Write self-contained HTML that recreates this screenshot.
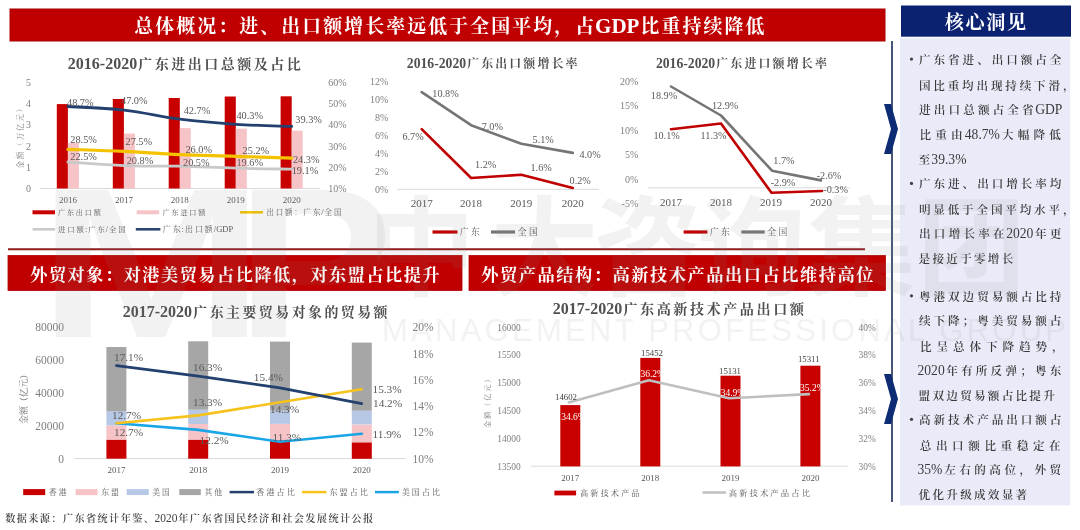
<!DOCTYPE html>
<html lang="zh-CN"><head><meta charset="utf-8"><title>广东外贸概况</title>
<style>
html,body{margin:0;padding:0;background:#fff;}
body{width:1080px;height:530px;overflow:hidden;}
svg{display:block;font-family:"Liberation Serif", "Noto Serif CJK SC", serif;}
</style></head><body>
<svg width="1080" height="530" viewBox="0 0 1080 530">
<rect x="10.0" y="9.0" width="875.0" height="32.0" fill="#C00000" stroke="#A80000" stroke-width="1"/>
<text x="133.3" y="33.2" font-size="21" fill="#FFFFFF" font-weight="bold"><tspan dx="1.05" font-size="18.90" letter-spacing="2.10">总体概况：进、出口额增长率远低于全国平均，占</tspan><tspan dx="-1.05">GDP</tspan><tspan dx="1.05" font-size="18.90" letter-spacing="2.10">比重持续降低</tspan></text>
<line x1="8.0" y1="249.3" x2="865.0" y2="249.3" stroke="#8E1B1E" stroke-width="2" />
<rect x="8.0" y="255.5" width="454.0" height="35.0" fill="#C00000" stroke="#B00000" stroke-width="0.8"/>
<text x="29.5" y="280.9" font-size="18.4" fill="#FFFFFF" font-weight="bold"><tspan dx="0.75" font-size="17.19" letter-spacing="1.49">外贸对象：对港美贸易占比降低，对东盟占比提升</tspan></text>
<rect x="469.0" y="255.5" width="416.5" height="35.0" fill="#C00000" stroke="#B00000" stroke-width="0.8"/>
<text x="480.4" y="280.9" font-size="18.4" fill="#FFFFFF" font-weight="bold"><tspan dx="0.75" font-size="17.25" letter-spacing="1.50">外贸产品结构：高新技术产品出口占比维持高位</tspan></text>
<text x="4.5" y="521.9" font-size="11.5" fill="#404040"><tspan dx="0.69" font-size="10.16" letter-spacing="1.39" font-weight="600">数据来源：广东省统计年鉴、</tspan><tspan dx="-0.69">2020</tspan><tspan dx="0.69" font-size="10.16" letter-spacing="1.39" font-weight="600">年广东省国民经济和社会发展统计公报</tspan></text>
<rect x="901.0" y="5.5" width="170.0" height="31.2" fill="#0B2270" />
<text x="943.9" y="28.8" font-size="20" fill="#FFFFFF" font-weight="bold"><tspan dx="0.83" font-size="19.14" letter-spacing="1.66">核心洞见</tspan></text>
<rect x="900.0" y="38.0" width="170.0" height="467.5" fill="#E9ECF8" />
<line x1="892.0" y1="41.0" x2="892.0" y2="502.0" stroke="#34456A" stroke-width="1.8" />
<polygon points="884,104 891,104 898,129 891,154 884,154 891,129" fill="#0E2C74"/>
<polygon points="884,374 891,374 898,399 891,424 884,424 891,399" fill="#0E2C74"/>
<circle cx="911.5" cy="59.1" r="1.6" fill="#404040"/>
<text x="917.5" y="63.8" font-size="13.6" fill="#3A3A3A"><tspan dx="1.48" font-size="11.60" letter-spacing="2.95" font-weight="600">广东省进、出口额占全</tspan></text>
<text x="917.5" y="89.6" font-size="13.6" fill="#3A3A3A"><tspan dx="1.40" font-size="11.60" letter-spacing="2.81" font-weight="600">国比重均出现持续下滑，</tspan></text>
<text x="917.5" y="114.2" font-size="13.6" fill="#3A3A3A"><tspan dx="1.56" font-size="11.60" letter-spacing="3.12" font-weight="600">进出口总额占全省</tspan><tspan dx="-1.56">GDP</tspan></text>
<text x="917.5" y="139.2" font-size="13.6" fill="#3A3A3A"><tspan dx="2.08" font-size="11.60" letter-spacing="4.17" font-weight="600">比重由</tspan><tspan dx="-2.08">48.7%</tspan><tspan dx="2.08" font-size="11.60" letter-spacing="4.17" font-weight="600">大幅降低</tspan></text>
<text x="917.5" y="164.2" font-size="13.6" fill="#3A3A3A"><tspan dx="1.12" font-size="11.60" letter-spacing="2.25" font-weight="600">至</tspan><tspan dx="-1.12">39.3%</tspan></text>
<circle cx="911.5" cy="183.4" r="1.6" fill="#404040"/>
<text x="917.5" y="188.1" font-size="13.6" fill="#3A3A3A"><tspan dx="1.48" font-size="11.60" letter-spacing="2.95" font-weight="600">广东进、出口增长率均</tspan></text>
<text x="917.5" y="213.9" font-size="13.6" fill="#3A3A3A"><tspan dx="1.40" font-size="11.60" letter-spacing="2.81" font-weight="600">明显低于全国平均水平，</tspan></text>
<text x="917.5" y="238.4" font-size="13.6" fill="#3A3A3A"><tspan dx="1.59" font-size="11.60" letter-spacing="3.19" font-weight="600">出口增长率在</tspan><tspan dx="-1.59">2020</tspan><tspan dx="1.59" font-size="11.60" letter-spacing="3.19" font-weight="600">年更</tspan></text>
<text x="917.5" y="262.5" font-size="13.6" fill="#3A3A3A"><tspan dx="1.12" font-size="11.60" letter-spacing="2.25" font-weight="600">是接近于零增长</tspan></text>
<circle cx="911.5" cy="295.8" r="1.6" fill="#404040"/>
<text x="917.5" y="300.5" font-size="13.6" fill="#3A3A3A"><tspan dx="1.48" font-size="11.60" letter-spacing="2.95" font-weight="600">粤港双边贸易额占比持</tspan></text>
<text x="917.5" y="325.0" font-size="13.6" fill="#3A3A3A"><tspan dx="1.48" font-size="11.60" letter-spacing="2.95" font-weight="600">续下降；粤美贸易额占</tspan></text>
<text x="917.5" y="350.7" font-size="13.6" fill="#3A3A3A"><tspan dx="2.45" font-size="11.60" letter-spacing="4.90" font-weight="600">比呈总体下降趋势，</tspan></text>
<text x="917.5" y="375.3" font-size="13.6" fill="#3A3A3A">2020<tspan dx="1.59" font-size="11.60" letter-spacing="3.19" font-weight="600">年有所反弹；粤东</tspan></text>
<text x="917.5" y="399.9" font-size="13.6" fill="#3A3A3A"><tspan dx="1.12" font-size="11.60" letter-spacing="2.25" font-weight="600">盟双边贸易额占比提升</tspan></text>
<circle cx="911.5" cy="419.3" r="1.6" fill="#404040"/>
<text x="917.5" y="424.0" font-size="13.6" fill="#3A3A3A"><tspan dx="1.48" font-size="11.60" letter-spacing="2.95" font-weight="600">高新技术产品出口额占</tspan></text>
<text x="917.5" y="449.7" font-size="13.6" fill="#3A3A3A"><tspan dx="2.28" font-size="11.60" letter-spacing="4.57" font-weight="600">总出口额比重稳定在</tspan></text>
<text x="917.5" y="474.3" font-size="13.6" fill="#3A3A3A">35%<tspan dx="1.74" font-size="11.60" letter-spacing="3.47" font-weight="600">左右的高位，外贸</tspan></text>
<text x="917.5" y="498.8" font-size="13.6" fill="#3A3A3A"><tspan dx="1.12" font-size="11.60" letter-spacing="2.25" font-weight="600">优化升级成效显著</tspan></text>
<text x="67.8" y="68.7" font-size="16" fill="#505050" font-weight="bold">2016-2020<tspan dx="1.24" font-size="14.03" letter-spacing="2.47">广东进出口总额及占比</tspan></text>
<text x="26.1" y="191.9" font-size="10" fill="#7F7F7F">0</text>
<text x="328.3" y="191.9" font-size="10" fill="#7F7F7F">10%</text>
<text x="26.1" y="170.7" font-size="10" fill="#7F7F7F">1</text>
<text x="328.3" y="170.7" font-size="10" fill="#7F7F7F">20%</text>
<text x="26.1" y="149.5" font-size="10" fill="#7F7F7F">2</text>
<text x="328.3" y="149.5" font-size="10" fill="#7F7F7F">30%</text>
<text x="26.1" y="128.3" font-size="10" fill="#7F7F7F">3</text>
<text x="328.3" y="128.3" font-size="10" fill="#7F7F7F">40%</text>
<text x="26.1" y="107.1" font-size="10" fill="#7F7F7F">4</text>
<text x="328.3" y="107.1" font-size="10" fill="#7F7F7F">50%</text>
<text x="26.1" y="85.9" font-size="10" fill="#7F7F7F">5</text>
<text x="328.3" y="85.9" font-size="10" fill="#7F7F7F">60%</text>
<text x="-32.9" y="3.2" font-size="9.5" fill="#7F7F7F" transform="translate(19.5,136.6) rotate(-90)"><tspan dx="0.94" font-size="7.52" letter-spacing="1.88">金额（万亿元）</tspan></text>
<line x1="40.0" y1="188.5" x2="320.0" y2="188.5" stroke="#D9D9D9" stroke-width="1" />
<rect x="56.8" y="104.1" width="11.1" height="84.4" fill="#C80000" />
<rect x="67.9" y="142.9" width="11.0" height="45.6" fill="#F6C4C6" />
<rect x="112.8" y="99.0" width="11.1" height="89.5" fill="#C80000" />
<rect x="123.9" y="133.6" width="11.0" height="54.9" fill="#F6C4C6" />
<rect x="168.7" y="98.0" width="11.1" height="90.5" fill="#C80000" />
<rect x="179.8" y="128.1" width="11.0" height="60.4" fill="#F6C4C6" />
<rect x="224.7" y="96.5" width="11.1" height="92.0" fill="#C80000" />
<rect x="235.8" y="128.7" width="11.0" height="59.8" fill="#F6C4C6" />
<rect x="280.6" y="96.3" width="11.1" height="92.2" fill="#C80000" />
<rect x="291.7" y="130.6" width="11.0" height="57.9" fill="#F6C4C6" />
<path d="M67.9,162.0 C78.0,162.6 103.7,164.8 123.9,165.6 C144.0,166.4 159.7,165.8 179.8,166.2 C199.9,166.7 215.6,167.6 235.8,168.1 C255.9,168.7 281.6,169.0 291.7,169.2" fill="none" stroke="#C9C9C9" stroke-width="2.8" stroke-linecap="round"/>
<path d="M67.9,149.3 C78.0,149.7 103.7,150.4 123.9,151.4 C144.0,152.4 159.7,153.7 179.8,154.6 C199.9,155.5 215.6,155.6 235.8,156.3 C255.9,156.9 281.6,157.8 291.7,158.2" fill="none" stroke="#F5C200" stroke-width="3.2" stroke-linecap="round"/>
<path d="M67.9,106.5 C78.0,107.1 103.7,107.8 123.9,110.1 C144.0,112.3 159.7,116.6 179.8,119.2 C199.9,121.7 215.6,123.0 235.8,124.3 C255.9,125.6 281.6,126.0 291.7,126.4" fill="none" stroke="#24406E" stroke-width="2.8" stroke-linecap="round"/>
<text x="67.0" y="105.5" font-size="10.3" fill="#595959">48.7%</text>
<text x="121.0" y="103.5" font-size="10.3" fill="#595959">47.0%</text>
<text x="183.7" y="114.0" font-size="10.3" fill="#595959">42.7%</text>
<text x="236.4" y="118.9" font-size="10.3" fill="#595959">40.3%</text>
<text x="295.3" y="122.5" font-size="10.3" fill="#595959">39.3%</text>
<text x="70.3" y="142.9" font-size="10.3" fill="#595959">28.5%</text>
<text x="125.5" y="145.1" font-size="10.3" fill="#595959">27.5%</text>
<text x="185.4" y="152.5" font-size="10.3" fill="#595959">26.0%</text>
<text x="242.6" y="154.0" font-size="10.3" fill="#595959">25.2%</text>
<text x="292.9" y="163.1" font-size="10.3" fill="#595959">24.3%</text>
<text x="70.3" y="159.9" font-size="10.3" fill="#595959">22.5%</text>
<text x="126.7" y="163.8" font-size="10.3" fill="#595959">20.8%</text>
<text x="183.0" y="166.3" font-size="10.3" fill="#595959">20.5%</text>
<text x="236.4" y="166.3" font-size="10.3" fill="#595959">19.6%</text>
<text x="291.7" y="174.1" font-size="10.3" fill="#595959">19.1%</text>
<text x="58.9" y="203.0" font-size="9" fill="#595959">2016</text>
<text x="114.9" y="203.0" font-size="9" fill="#595959">2017</text>
<text x="170.8" y="203.0" font-size="9" fill="#595959">2018</text>
<text x="226.8" y="203.0" font-size="9" fill="#595959">2019</text>
<text x="282.7" y="203.0" font-size="9" fill="#595959">2020</text>
<line x1="32.5" y1="212.3" x2="55.0" y2="212.3" stroke="#C80000" stroke-width="4" />
<text x="57.2" y="215.2" font-size="8.5" fill="#595959"><tspan dx="0.89" font-size="7.12" letter-spacing="1.78">广东出口额</tspan></text>
<line x1="136.7" y1="212.3" x2="159.2" y2="212.3" stroke="#F6C4C6" stroke-width="4" />
<text x="161.8" y="215.2" font-size="8.5" fill="#595959"><tspan dx="0.89" font-size="7.12" letter-spacing="1.78">广东进口额</tspan></text>
<line x1="240.0" y1="212.3" x2="263.0" y2="212.3" stroke="#F5C200" stroke-width="2.5" />
<text x="265.5" y="215.2" font-size="8.5" fill="#595959"><tspan dx="0.93" font-size="7.44" letter-spacing="1.86">出口额：广东</tspan><tspan dx="-0.93">/</tspan><tspan dx="0.93" font-size="7.44" letter-spacing="1.86">全国</tspan></text>
<line x1="32.5" y1="229.3" x2="55.0" y2="229.3" stroke="#C9C9C9" stroke-width="2.5" />
<text x="57.2" y="232.2" font-size="8.5" fill="#595959"><tspan dx="0.92" font-size="7.40" letter-spacing="1.85">进口额</tspan><tspan dx="-0.92">:</tspan><tspan dx="0.92" font-size="7.40" letter-spacing="1.85">广东</tspan><tspan dx="-0.92">/</tspan><tspan dx="0.92" font-size="7.40" letter-spacing="1.85">全国</tspan></text>
<line x1="135.8" y1="229.3" x2="160.4" y2="229.3" stroke="#24406E" stroke-width="2.5" />
<text x="161.7" y="232.2" font-size="8.5" fill="#595959"><tspan dx="0.99" font-size="7.96" letter-spacing="1.99">广东</tspan><tspan dx="-0.99">:</tspan><tspan dx="0.99" font-size="7.96" letter-spacing="1.99">出口额</tspan><tspan dx="-0.99">/GDP</tspan></text>
<text x="406.8" y="67.7" font-size="13.7" fill="#505050" font-weight="bold">2016-2020<tspan dx="1.05" font-size="11.94" letter-spacing="2.11">广东出口额增长率</tspan></text>
<text x="375.0" y="192.7" font-size="10" fill="#7F7F7F">0%</text>
<text x="375.0" y="174.7" font-size="10" fill="#7F7F7F">2%</text>
<text x="375.0" y="156.7" font-size="10" fill="#7F7F7F">4%</text>
<text x="375.0" y="138.7" font-size="10" fill="#7F7F7F">6%</text>
<text x="375.0" y="120.8" font-size="10" fill="#7F7F7F">8%</text>
<text x="370.0" y="102.8" font-size="10" fill="#7F7F7F">10%</text>
<text x="370.0" y="84.8" font-size="10" fill="#7F7F7F">12%</text>
<line x1="397.0" y1="189.3" x2="599.0" y2="189.3" stroke="#D9D9D9" stroke-width="1" />
<text x="410.7" y="207.3" font-size="11" fill="#595959">2017</text>
<text x="460.1" y="207.3" font-size="11" fill="#595959">2018</text>
<text x="510.3" y="207.3" font-size="11" fill="#595959">2019</text>
<text x="561.8" y="207.3" font-size="11" fill="#595959">2020</text>
<polyline points="421.7,92.2 471.1,125.2 521.3,143.7 572.8,152.9" fill="none" stroke="#757575" stroke-width="2.6" stroke-linejoin="round" stroke-linecap="round" />
<polyline points="421.7,129.1 471.1,178.0 521.3,174.8 572.8,188.0" fill="none" stroke="#C00000" stroke-width="2.6" stroke-linejoin="round" stroke-linecap="round" />
<text x="432.3" y="96.9" font-size="10.2" fill="#595959">10.8%</text>
<text x="481.7" y="129.9" font-size="10.2" fill="#595959">7.0%</text>
<text x="532.6" y="143.1" font-size="10.2" fill="#595959">5.1%</text>
<text x="579.4" y="157.6" font-size="10.2" fill="#595959">4.0%</text>
<text x="402.4" y="139.7" font-size="10.2" fill="#595959">6.7%</text>
<text x="475.0" y="168.2" font-size="10.2" fill="#595959">1.2%</text>
<text x="530.5" y="170.8" font-size="10.2" fill="#595959">1.6%</text>
<text x="569.6" y="184.0" font-size="10.2" fill="#595959">0.2%</text>
<line x1="432.5" y1="232.0" x2="457.5" y2="232.0" stroke="#C00000" stroke-width="3.2" />
<text x="458.6" y="235.2" font-size="8.5" fill="#595959"><tspan dx="1.20" font-size="8.80" letter-spacing="2.40">广东</tspan></text>
<line x1="491.0" y1="232.0" x2="515.0" y2="232.0" stroke="#757575" stroke-width="3.2" />
<text x="516.6" y="235.2" font-size="8.5" fill="#595959"><tspan dx="1.20" font-size="8.80" letter-spacing="2.40">全国</tspan></text>
<text x="655.9" y="67.7" font-size="13.7" fill="#505050" font-weight="bold">2016-2020<tspan dx="1.06" font-size="11.98" letter-spacing="2.12">广东进口额增长率</tspan></text>
<text x="621.6" y="207.1" font-size="10" fill="#7F7F7F">-5%</text>
<text x="625.0" y="182.6" font-size="10" fill="#7F7F7F">0%</text>
<text x="625.0" y="158.1" font-size="10" fill="#7F7F7F">5%</text>
<text x="620.0" y="133.6" font-size="10" fill="#7F7F7F">10%</text>
<text x="620.0" y="109.1" font-size="10" fill="#7F7F7F">15%</text>
<text x="620.0" y="84.6" font-size="10" fill="#7F7F7F">20%</text>
<line x1="647.8" y1="187.8" x2="850.0" y2="187.8" stroke="#D9D9D9" stroke-width="1" />
<text x="660.0" y="205.7" font-size="11" fill="#595959">2017</text>
<text x="710.0" y="205.7" font-size="11" fill="#595959">2018</text>
<text x="760.0" y="205.7" font-size="11" fill="#595959">2019</text>
<text x="810.0" y="205.7" font-size="11" fill="#595959">2020</text>
<polyline points="671.0,86.5 721.0,115.5 772.0,170.7 821.0,180.4" fill="none" stroke="#757575" stroke-width="2.6" stroke-linejoin="round" stroke-linecap="round" />
<polyline points="671.0,129.2 721.0,123.5 771.5,192.7 822.0,191.0" fill="none" stroke="#C00000" stroke-width="2.6" stroke-linejoin="round" stroke-linecap="round" />
<text x="650.8" y="99.4" font-size="10.2" fill="#595959">18.9%</text>
<text x="712.0" y="108.8" font-size="10.2" fill="#595959">12.9%</text>
<text x="773.3" y="164.4" font-size="10.2" fill="#595959">1.7%</text>
<text x="816.7" y="179.0" font-size="10.2" fill="#595959">-2.6%</text>
<text x="653.4" y="139.0" font-size="10.2" fill="#595959">10.1%</text>
<text x="700.6" y="139.0" font-size="10.2" fill="#595959">11.3%</text>
<text x="770.7" y="186.1" font-size="10.2" fill="#595959">-2.9%</text>
<text x="823.3" y="192.7" font-size="10.2" fill="#595959">-0.3%</text>
<line x1="683.6" y1="232.0" x2="707.4" y2="232.0" stroke="#C00000" stroke-width="3.2" />
<text x="708.6" y="235.2" font-size="8.5" fill="#595959"><tspan dx="1.20" font-size="8.80" letter-spacing="2.40">广东</tspan></text>
<line x1="741.3" y1="232.0" x2="764.7" y2="232.0" stroke="#757575" stroke-width="3.2" />
<text x="766.0" y="235.2" font-size="8.5" fill="#595959"><tspan dx="1.20" font-size="8.80" letter-spacing="2.40">全国</tspan></text>
<text x="122.7" y="317.2" font-size="16" fill="#505050" font-weight="bold">2017-2020<tspan dx="1.23" font-size="13.94" letter-spacing="2.46">广东主要贸易对象的贸易额</tspan></text>
<text x="58.2" y="462.6" font-size="11.5" fill="#7F7F7F">0</text>
<text x="35.2" y="429.8" font-size="11.5" fill="#7F7F7F">20000</text>
<text x="35.2" y="397.0" font-size="11.5" fill="#7F7F7F">40000</text>
<text x="35.2" y="364.2" font-size="11.5" fill="#7F7F7F">60000</text>
<text x="35.2" y="331.4" font-size="11.5" fill="#7F7F7F">80000</text>
<text x="412.4" y="462.6" font-size="11.5" fill="#7F7F7F">10%</text>
<text x="412.4" y="436.4" font-size="11.5" fill="#7F7F7F">12%</text>
<text x="412.4" y="410.1" font-size="11.5" fill="#7F7F7F">14%</text>
<text x="412.4" y="383.9" font-size="11.5" fill="#7F7F7F">16%</text>
<text x="412.4" y="357.6" font-size="11.5" fill="#7F7F7F">18%</text>
<text x="412.4" y="331.4" font-size="11.5" fill="#7F7F7F">20%</text>
<text x="-27.0" y="3.2" font-size="9" fill="#737373" transform="translate(23.4,396.9) rotate(-90)"><tspan dx="0.00" font-size="9.00" letter-spacing="0.00">金额（亿元）</tspan></text>
<line x1="75.0" y1="458.6" x2="405.0" y2="458.6" stroke="#D9D9D9" stroke-width="1" />
<rect x="106.4" y="439.6" width="20.0" height="19.1" fill="#C80000" />
<rect x="106.4" y="425.4" width="20.0" height="14.2" fill="#F6C4C6" />
<rect x="106.4" y="411.2" width="20.0" height="14.2" fill="#B7C8E6" />
<rect x="106.4" y="347.0" width="20.0" height="64.3" fill="#A6A6A6" />
<rect x="188.2" y="439.6" width="20.0" height="19.1" fill="#C80000" />
<rect x="188.2" y="424.0" width="20.0" height="15.6" fill="#F6C4C6" />
<rect x="188.2" y="409.7" width="20.0" height="14.3" fill="#B7C8E6" />
<rect x="188.2" y="341.3" width="20.0" height="68.4" fill="#A6A6A6" />
<rect x="270.0" y="440.7" width="20.0" height="18.0" fill="#C80000" />
<rect x="270.0" y="424.0" width="20.0" height="16.8" fill="#F6C4C6" />
<rect x="270.0" y="410.7" width="20.0" height="13.2" fill="#B7C8E6" />
<rect x="270.0" y="341.6" width="20.0" height="69.1" fill="#A6A6A6" />
<rect x="351.8" y="442.3" width="20.0" height="16.5" fill="#C80000" />
<rect x="351.8" y="424.5" width="20.0" height="17.8" fill="#F6C4C6" />
<rect x="351.8" y="410.6" width="20.0" height="13.8" fill="#B7C8E6" />
<rect x="351.8" y="342.6" width="20.0" height="68.1" fill="#A6A6A6" />
<polyline points="116.4,423.3 198.2,429.9 280.0,441.7 361.8,433.8" fill="none" stroke="#1AA6E6" stroke-width="2.6" stroke-linejoin="round" stroke-linecap="round" />
<polyline points="116.4,423.3 198.2,415.4 280.0,402.3 361.8,389.2" fill="none" stroke="#F6C21C" stroke-width="2.6" stroke-linejoin="round" stroke-linecap="round" />
<polyline points="116.4,365.6 198.2,376.1 280.0,387.9 361.8,403.6" fill="none" stroke="#24406E" stroke-width="2.6" stroke-linejoin="round" stroke-linecap="round" />
<text x="114.0" y="361.3" font-size="11.3" fill="#595959">17.1%</text>
<text x="193.0" y="370.8" font-size="11.3" fill="#595959">16.3%</text>
<text x="253.8" y="380.5" font-size="11.3" fill="#595959">15.4%</text>
<text x="373.0" y="406.8" font-size="11.3" fill="#595959">14.2%</text>
<text x="112.0" y="418.8" font-size="11.3" fill="#595959">12.7%</text>
<text x="193.0" y="406.3" font-size="11.3" fill="#595959">13.3%</text>
<text x="270.0" y="412.6" font-size="11.3" fill="#595959">14.3%</text>
<text x="372.5" y="392.8" font-size="11.3" fill="#595959">15.3%</text>
<text x="114.0" y="435.5" font-size="11.3" fill="#595959">12.7%</text>
<text x="199.6" y="443.8" font-size="11.3" fill="#595959">12.2%</text>
<text x="272.5" y="440.5" font-size="11.3" fill="#595959">11.3%</text>
<text x="372.5" y="437.6" font-size="11.3" fill="#595959">11.9%</text>
<text x="107.4" y="473.0" font-size="9" fill="#595959">2017</text>
<text x="189.2" y="473.0" font-size="9" fill="#595959">2018</text>
<text x="271.0" y="473.0" font-size="9" fill="#595959">2019</text>
<text x="352.8" y="473.0" font-size="9" fill="#595959">2020</text>
<rect x="23.2" y="489.1" width="22.0" height="6.0" fill="#C80000" />
<text x="48.1" y="495.0" font-size="8.5" fill="#595959"><tspan dx="0.97" font-size="7.80" letter-spacing="1.95">香港</tspan></text>
<rect x="75.6" y="489.1" width="22.0" height="6.0" fill="#F6C4C6" />
<text x="100.3" y="495.0" font-size="8.5" fill="#595959"><tspan dx="0.97" font-size="7.80" letter-spacing="1.95">东盟</tspan></text>
<rect x="126.7" y="489.1" width="22.0" height="6.0" fill="#B7C8E6" />
<text x="151.4" y="495.0" font-size="8.5" fill="#595959"><tspan dx="0.97" font-size="7.80" letter-spacing="1.95">美国</tspan></text>
<rect x="179.3" y="489.1" width="21.5" height="6.0" fill="#A6A6A6" />
<text x="203.5" y="495.0" font-size="8.5" fill="#595959"><tspan dx="0.97" font-size="7.80" letter-spacing="1.95">其他</tspan></text>
<line x1="229.6" y1="492.1" x2="254.0" y2="492.1" stroke="#24406E" stroke-width="2.5" />
<text x="255.3" y="495.0" font-size="8.5" fill="#595959"><tspan dx="1.01" font-size="8.10" letter-spacing="2.02">香港占比</tspan></text>
<line x1="302.0" y1="492.1" x2="326.5" y2="492.1" stroke="#F6C21C" stroke-width="2.5" />
<text x="328.4" y="495.0" font-size="8.5" fill="#595959"><tspan dx="1.01" font-size="8.10" letter-spacing="2.02">东盟占比</tspan></text>
<line x1="375.0" y1="492.1" x2="398.9" y2="492.1" stroke="#1AA6E6" stroke-width="2.5" />
<text x="400.7" y="495.0" font-size="8.5" fill="#595959"><tspan dx="1.01" font-size="8.10" letter-spacing="2.02">美国占比</tspan></text>
<text x="552.8" y="314.2" font-size="16" fill="#505050" font-weight="bold">2017-2020<tspan dx="1.25" font-size="14.15" letter-spacing="2.50">广东高新技术产品出口额</tspan></text>
<text x="497.2" y="469.6" font-size="9.4" fill="#7F7F7F">13500</text>
<text x="497.2" y="441.8" font-size="9.4" fill="#7F7F7F">14000</text>
<text x="497.2" y="414.0" font-size="9.4" fill="#7F7F7F">14500</text>
<text x="497.2" y="386.2" font-size="9.4" fill="#7F7F7F">15000</text>
<text x="497.2" y="358.4" font-size="9.4" fill="#7F7F7F">15500</text>
<text x="497.2" y="330.6" font-size="9.4" fill="#7F7F7F">16000</text>
<text x="858.6" y="469.6" font-size="9.4" fill="#7F7F7F">30%</text>
<text x="858.6" y="441.8" font-size="9.4" fill="#7F7F7F">32%</text>
<text x="858.6" y="414.0" font-size="9.4" fill="#7F7F7F">34%</text>
<text x="858.6" y="386.2" font-size="9.4" fill="#7F7F7F">36%</text>
<text x="858.6" y="358.4" font-size="9.4" fill="#7F7F7F">38%</text>
<text x="858.6" y="330.6" font-size="9.4" fill="#7F7F7F">40%</text>
<text x="-27.3" y="2.7" font-size="8" fill="#7F7F7F" transform="translate(487.6,401.7) rotate(-90)"><tspan dx="0.91" font-size="7.28" letter-spacing="1.82">金额（亿元）</tspan></text>
<line x1="531.0" y1="466.2" x2="848.0" y2="466.2" stroke="#D9D9D9" stroke-width="1" />
<rect x="560.3" y="405.1" width="20.0" height="61.3" fill="#C80000" />
<rect x="640.3" y="357.9" width="20.0" height="108.5" fill="#C80000" />
<rect x="720.5" y="375.7" width="20.0" height="90.7" fill="#C80000" />
<rect x="800.4" y="365.7" width="20.0" height="100.7" fill="#C80000" />
<polyline points="568.8,402.5 648.8,380.2 729.0,398.3 808.9,394.1" fill="none" stroke="#BFBFBF" stroke-width="2.6" stroke-linejoin="round" stroke-linecap="round" />
<text x="555.0" y="400.3" font-size="8.8" fill="#404040">14602</text>
<text x="641.0" y="356.2" font-size="8.8" fill="#404040">15452</text>
<text x="719.0" y="374.2" font-size="8.8" fill="#404040">15131</text>
<text x="797.9" y="361.5" font-size="8.8" fill="#404040">15311</text>
<text x="561.2" y="419.5" font-size="9.5" fill="#FFFFFF">34.6%</text>
<text x="640.4" y="377.0" font-size="9.5" fill="#FFFFFF">36.2%</text>
<text x="720.7" y="396.2" font-size="9.5" fill="#FFFFFF">34.9%</text>
<text x="800.0" y="391.2" font-size="9.5" fill="#FFFFFF">35.2%</text>
<text x="561.3" y="480.6" font-size="9" fill="#595959">2017</text>
<text x="641.3" y="480.6" font-size="9" fill="#595959">2018</text>
<text x="721.5" y="480.6" font-size="9" fill="#595959">2019</text>
<text x="801.4" y="480.6" font-size="9" fill="#595959">2020</text>
<rect x="554.4" y="490.6" width="21.7" height="4.8" fill="#C80000" />
<text x="579.0" y="495.5" font-size="8.5" fill="#595959"><tspan dx="1.02" font-size="8.20" letter-spacing="2.05">高新技术产品</tspan></text>
<line x1="702.5" y1="492.5" x2="726.0" y2="492.5" stroke="#BFBFBF" stroke-width="2.5" />
<text x="727.6" y="495.5" font-size="8.5" fill="#595959"><tspan dx="1.04" font-size="8.35" letter-spacing="2.09">高新技术产品占比</tspan></text>
<g fill="#8C8C8C" fill-opacity="0.11">
<text transform="translate(37.3,337) scale(1.28,1)" font-family="Liberation Sans, sans-serif" font-weight="bold" font-size="213.7">M</text>
<text transform="translate(236.2,337) scale(1.10,1)" font-family="Liberation Sans, sans-serif" font-weight="bold" font-size="213.7">P</text>
<text x="367.6 490.6 593.6 697.6 807.6 917.6" y="287" font-family="Noto Sans CJK SC, sans-serif" font-weight="bold" font-size="108">中大咨询集团</text>
<text x="382" y="340.6" font-family="Liberation Sans, sans-serif" font-size="31" textLength="684" lengthAdjust="spacing">MANAGEMENT PROFESSIONAL GROUP</text>
</g>
</svg>
</body></html>
